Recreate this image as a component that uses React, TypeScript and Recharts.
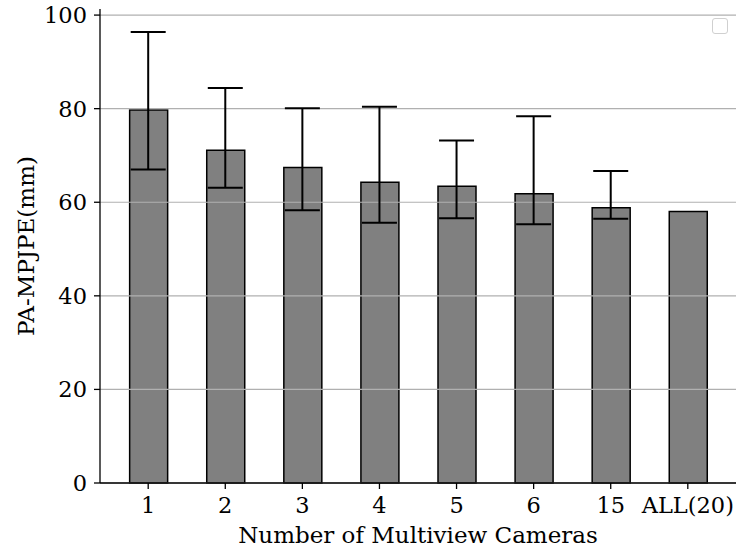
import {
  ComposedChart, Bar, Line, ErrorBar, XAxis, YAxis, ReferenceLine,
} from 'recharts'

const cameras = ['1', '2', '3', '4', '5', '6', '15', 'ALL(20)']
const meanError = [79.7, 71.1, 67.4, 64.3, 63.4, 61.8, 58.8, 58.0]
const lowError = [67.0, 63.1, 58.3, 55.6, 56.6, 55.3, 56.5, null]
const highError = [96.4, 84.4, 80.1, 80.4, 73.2, 78.4, 66.7, null]
const yTicks = [0, 20, 40, 60, 80, 100]
const yMax = 101.3

const data = cameras.map((name, i) => {
  const lo = lowError[i]
  const hi = highError[i]
  return {
    name,
    mean: meanError[i],
    err: lo == null || hi == null ? null : [meanError[i] - lo, hi - meanError[i]],
  }
})

const font = '"DejaVu Serif", serif'
const tickStyle = { fill: '#000', fontSize: 22.5, fontFamily: font }
const labelStyle = { fill: '#000', fontSize: 23, fontFamily: font }

export default function App() {
  return (
    <div style={{ position: 'absolute', left: 0, top: 0, width: 737, height: 547, background: '#fff' }}>
      <ComposedChart
        width={737}
        height={547}
        data={data}
        margin={{ top: 9, right: 1, bottom: 0, left: 0 }}
      >
        <XAxis
          dataKey="name"
          height={64}
          padding={{ left: 9.65, right: 9.65 }}
          tick={tickStyle}
          tickSize={6}
          tickMargin={8}
          axisLine={{ stroke: '#000', strokeWidth: 1.3 }}
          tickLine={{ stroke: '#000', strokeWidth: 1.3 }}
          interval={0}
          label={{
            value: 'Number of Multiview Cameras',
            position: 'insideBottom',
            offset: 4,
            style: labelStyle,
          }}
        />
        <XAxis
          xAxisId="top"
          dataKey="name"
          orientation="top"
          height={0}
          tick={false}
          tickLine={false}
          axisLine={{ stroke: '#000', strokeWidth: 1.3 }}
        />
        <YAxis
          width={100}
          domain={[0, yMax]}
          ticks={yTicks}
          tick={tickStyle}
          tickSize={6}
          tickMargin={7}
          axisLine={{ stroke: '#000', strokeWidth: 1.3 }}
          tickLine={{ stroke: '#000', strokeWidth: 1.3 }}
          label={{
            value: 'PA-MPJPE(mm)',
            angle: -90,
            position: 'insideLeft',
            offset: 26,
            style: { ...labelStyle, textAnchor: 'middle' },
          }}
        />
        <YAxis
          yAxisId="right"
          orientation="right"
          width={0}
          domain={[0, yMax]}
          tick={false}
          tickLine={false}
          axisLine={{ stroke: '#000', strokeWidth: 1.3 }}
        />
        <Bar
          dataKey="mean"
          barSize={38}
          fill="#808080"
          stroke="#000"
          strokeWidth={1.5}
          isAnimationActive={false}
        />
        {yTicks.map((t) => (
          <ReferenceLine key={t} y={t} stroke="#b0b0b0" strokeWidth={1.2} />
        ))}
        <Line
          dataKey="mean"
          stroke="none"
          dot={false}
          activeDot={false}
          isAnimationActive={false}
        >
          <ErrorBar dataKey="err" width={17.5} stroke="#000" strokeWidth={2} isAnimationActive={false} />
        </Line>
      </ComposedChart>
      {/* empty legend box, as in the original */}
      <div
        style={{
          position: 'absolute', left: 712, top: 18, width: 14, height: 14,
          border: '1px solid #d0d0d0', borderRadius: 3, background: '#fff',
        }}
      />
    </div>
  )
}
